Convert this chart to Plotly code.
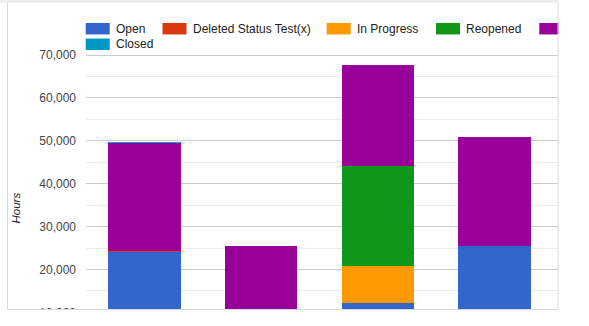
import plotly.graph_objects as go

# ---- data ----
categories = ["Team A", "Team B", "Team C", "Team D"]
series_names = ["Open", "Deleted Status Test(x)", "In Progress", "Reopened", "Resolved", "Closed"]
open_hours = [24250, 0, 12300, 25450]
deleted_hours = [150, 0, 0, 0]
in_progress_hours = [0, 0, 8600, 0]
reopened_hours = [0, 0, 23300, 0]
resolved_hours = [25150, 25500, 23500, 25350]
closed_hours = [100, 0, 0, 0]
y_tick_values = [10000, 20000, 30000, 40000, 50000, 60000, 70000]
y_tick_labels = ["10,000", "20,000", "30,000", "40,000", "50,000", "60,000", "70,000"]

series_values = [open_hours, deleted_hours, in_progress_hours,
                 reopened_hours, resolved_hours, closed_hours]
colors = ["#3366cc", "#dc3912", "#ff9900", "#109618", "#990099", "#0099c6"]

# ---- geometry (pixels) ----
W, H = 589, 326
ML, MR, MT, MB = 86, 31, 45, 0
PW = W - ML - MR
PH = H - MT - MB
GRID_70K_PX = 55.0      # pixel row of the 70,000 gridline
PX_PER_10K = 42.9

y_top = 70000 + (GRID_70K_PX - MT) / PX_PER_10K * 10000
y_bottom = 70000 - (H - MB - GRID_70K_PX) / PX_PER_10K * 10000


def px_x(px):
    return (px - ML) / PW


def px_y(py):
    return (H - MB - py) / PH


FONT = "Arial, 'Liberation Sans', sans-serif"

fig = go.Figure()
for name, vals, col in zip(series_names, series_values, colors):
    fig.add_trace(go.Bar(
        x=list(range(len(categories))), y=vals, name=name,
        marker=dict(color=col, line=dict(width=0)),
        showlegend=False,
        customdata=categories,
        hovertemplate="%{customdata}<br>" + name + ": %{y:,}<extra></extra>",
    ))

shapes = []
annotations = []

# legend (two rows, clipped at the container's right edge)
legend_items = [
    (0, 85.7, 28.7), (1, 162.5, 28.7), (2, 326.7, 28.7),
    (3, 436.0, 28.7), (4, 539.3, 28.7), (5, 85.7, 44.3),
]
sw_w, sw_h = 24.0, 11.5
for idx, lx, ly in legend_items:
    shapes.append(dict(
        type="rect", xref="paper", yref="paper", layer="above",
        x0=px_x(lx), x1=px_x(lx + sw_w), y0=px_y(ly + sw_h / 2), y1=px_y(ly - sw_h / 2),
        fillcolor=colors[idx], line=dict(width=0),
    ))
    if idx != 4:
        annotations.append(dict(
            xref="paper", yref="paper", x=px_x(lx + sw_w + 4), y=px_y(ly),
            xanchor="left", yanchor="middle", showarrow=False,
            text=series_names[idx], font=dict(family=FONT, size=12, color="#222222"),
        ))

# y-axis title
annotations.append(dict(
    xref="paper", yref="paper", x=px_x(15), y=px_y(208.5),
    xanchor="center", yanchor="middle", showarrow=False, textangle=-90,
    text="Hours", font=dict(family=FONT, size=11.5, color="#222222", style="italic"),
))

# container clipping: white out everything below / right of the frame
shapes.append(dict(type="rect", xref="paper", yref="paper", layer="above",
                   x0=px_x(-5), x1=px_x(W + 5), y0=px_y(H + 5), y1=px_y(309.5),
                   fillcolor="white", line=dict(width=0)))
shapes.append(dict(type="rect", xref="paper", yref="paper", layer="above",
                   x0=px_x(558.5), x1=px_x(W + 5), y0=px_y(H + 5), y1=px_y(-5),
                   fillcolor="white", line=dict(width=0)))
# frame
frame_col = "#d9d9d9"
shapes.append(dict(type="rect", xref="paper", yref="paper", layer="above",
                   x0=px_x(0), x1=px_x(558.5), y0=px_y(2.5), y1=px_y(0),
                   fillcolor="#ececec", line=dict(width=0)))
shapes.append(dict(type="line", xref="paper", yref="paper", layer="above",
                   x0=px_x(7.5), x1=px_x(7.5), y0=px_y(2.5), y1=px_y(309.5),
                   line=dict(color=frame_col, width=1)))
shapes.append(dict(type="line", xref="paper", yref="paper", layer="above",
                   x0=px_x(558), x1=px_x(558), y0=px_y(2.5), y1=px_y(309.5),
                   line=dict(color=frame_col, width=1)))
shapes.append(dict(type="line", xref="paper", yref="paper", layer="above",
                   x0=px_x(7.5), x1=px_x(558), y0=px_y(309.5), y1=px_y(309.5),
                   line=dict(color=frame_col, width=1)))

step_px = 116.67
x_lo = -(144.5 - ML) / step_px
x_hi = (ML + PW - 144.5) / step_px

fig.update_layout(
    width=W, height=H, autosize=False,
    margin=dict(l=ML, r=MR, t=MT, b=MB, pad=0),
    paper_bgcolor="white", plot_bgcolor="white",
    barmode="stack", bargap=1 - 72.5 / step_px,
    font=dict(family=FONT, size=12, color="#444444"),
    xaxis=dict(range=[x_lo, x_hi], showticklabels=False, showgrid=False,
               zeroline=False, showline=False, ticks="", fixedrange=True),
    yaxis=dict(range=[y_bottom, y_top], tickmode="array",
               tickvals=y_tick_values, ticktext=y_tick_labels,
               showgrid=True, gridcolor="#cccccc", gridwidth=1,
               minor=dict(dtick=5000, tick0=0, showgrid=True,
                          gridcolor="#ebebeb", gridwidth=1, ticks=""),
               zeroline=False, showline=False, ticks="",
               ticklabelstandoff=9,
               tickfont=dict(family=FONT, size=12, color="#444444"),
               fixedrange=True),
    shapes=shapes, annotations=annotations,
    showlegend=False,
)

fig.write_html("out.html", config={"displayModeBar": False})
